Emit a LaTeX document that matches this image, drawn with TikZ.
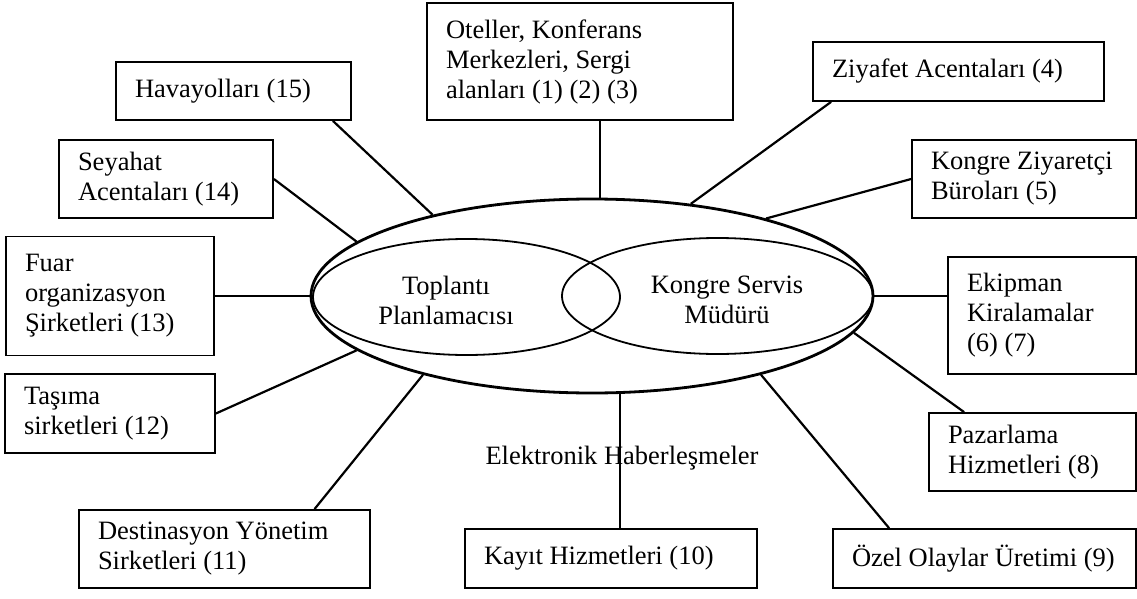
\documentclass[tikz,border=0pt]{standalone}
\usepackage{fontspec}
\setmainfont{Liberation Serif}
\usetikzlibrary{shapes.geometric}

\begin{document}
\begin{tikzpicture}[x=1pt, y=-1pt,
		kutu/.style={draw, line width=1.8pt, align=flush left, inner xsep=19pt, inner ysep=0pt, font=\fontsize{26.5}{30}\selectfont},
		yazi/.style={align=center, font=\fontsize{26.5}{30}\selectfont},
		bag/.style={line width=2.2pt},
		ince/.style={line width=1.5pt}]
				\useasboundingbox (0,0) rectangle (1137,599);
				\node[draw, ellipse, inner sep=0pt, line width=2.8pt, minimum width=562pt, minimum height=194pt] (buyuk) at (592,296) {};
				\node[draw, ellipse, inner sep=0pt, line width=1.8pt, minimum width=307pt, minimum height=116pt] (sol) at (466.5,297) {};
				\node[draw, ellipse, inner sep=0pt, line width=1.8pt, minimum width=311pt, minimum height=116pt] (sag) at (717.5,296) {};
				\node[yazi] (planlamaci) at (446,300) {Toplantı\\Planlamacısı};
				\node[yazi] (mudur) at (727,300) {Kongre Servis\\Müdürü};
				
				\node[kutu, text width=268pt, minimum height=117pt] (otel) at (580,61.5) {Oteller, Konferans\\Merkezleri, Sergi\\alanları (1) (2) (3)};
				\node[kutu, text width=253pt, minimum height=59pt] (ziyafet) at (958.5,71.5) {Ziyafet Acentaları (4)};
				\node[kutu, text width=186pt, minimum height=78pt] (kongre) at (1024,179) {Kongre Ziyaretçi\\Büroları (5)};
				\node[kutu, text width=150pt, minimum height=117pt] (ekipman) at (1042,315.5) {Ekipman\\Kiralamalar\\(6) (7)};
				\node[kutu, text width=169pt, minimum height=78pt] (pazar) at (1032.5,452) {Pazarlama\\Hizmetleri (8)};
				\node[kutu, text width=265pt, minimum height=59pt] (ozel) at (984.5,558.5) {Özel Olaylar Üretimi (9)};
				\node[kutu, text width=254pt, minimum height=59pt] (kayit) at (611,558.5) {Kayıt Hizmetleri (10)};
				\node[kutu, text width=253pt, minimum height=78pt] (desti) at (224.5,549) {Destinasyon Yönetim\\Sirketleri (11)};
				\node[kutu, text width=172pt, minimum height=79pt] (tasima) at (110,413.5) {Taşıma\\sirketleri (12)};
				\node[kutu, text width=170pt, minimum height=119pt] (fuar) at (110,296) {Fuar\\organizasyon\\Şirketleri (13)};
				\node[kutu, text width=176pt, minimum height=78pt] (seyahat) at (166,179) {Seyahat\\Acentaları (14)};
				\node[kutu, text width=197pt, minimum height=58pt] (hava) at (233.5,91) {Havayolları (15)};
				\node[yazi] (elektronik) at (622,458) {Elektronik Haberleşmeler};
				
				\draw[ince] ([xshift=20pt]otel.south) -- ([xshift=20pt]otel.south |- buyuk.north);
				\draw[bag] ([xshift=19pt]ziyafet.south west) -- (buyuk.43);
				\draw[bag] (kongre.west) -- (buyuk.24);
				\draw[ince] (buyuk.east) -- (buyuk.east -| ekipman.west);
				\draw[bag] ([xshift=36pt]pazar.north west) -- (buyuk.352);
				\draw[bag] ([xshift=57pt]ozel.north west) -- (buyuk.335);
				\draw[ince] ([xshift=9pt]kayit.north) -- ([xshift=9pt]kayit.north |- buyuk.south);
				\draw[bag] ([xshift=90pt]desti.north) -- (buyuk.205);
				\draw[bag] (tasima.east) -- (buyuk.193);
				\draw[ince] (fuar.east) -- (buyuk.west);
				\draw[bag] (seyahat.east) -- (buyuk.167);
				\draw[bag] ([xshift=-19pt]hava.south east) -- (buyuk.153);
\end{tikzpicture}
\end{document}
